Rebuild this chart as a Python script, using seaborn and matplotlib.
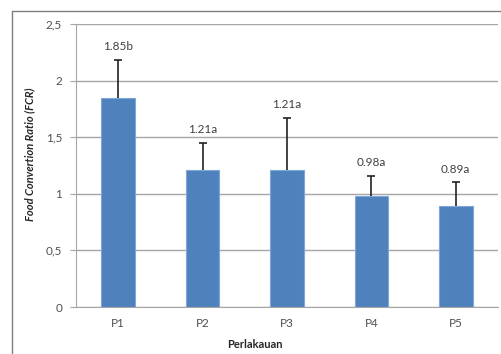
import matplotlib
matplotlib.use("Agg")
import matplotlib.pyplot as plt
import pandas as pd
import seaborn as sns
from matplotlib.lines import Line2D

# Data
treatments = ["P1", "P2", "P3", "P4", "P5"]
fcr = [1.85, 1.21, 1.21, 0.98, 0.89]
sd = [0.33, 0.24, 0.46, 0.18, 0.21]
labels = ["1.85b", "1.21a", "1.21a", "0.98a", "0.89a"]
yticks = [0, 0.5, 1, 1.5, 2, 2.5]
ytick_labels = ["0", "0,5", "1", "1,5", "2", "2,5"]

df = pd.DataFrame({"Perlakuan": treatments, "FCR": fcr})
tops = [v + s for v, s in zip(fcr, sd)]

sns.set_style("white")
plt.rcParams["font.family"] = ["Lato", "DejaVu Sans"]

fig = plt.figure(figsize=(5.02, 3.54), dpi=100)
ax = fig.add_axes([76 / 502, 1 - 307 / 354, 422 / 502, 283 / 354])

ax.yaxis.grid(True, color="#a6a6a6", linewidth=1)
ax.set_axisbelow(True)
sns.barplot(df, x="Perlakuan", y="FCR", color="#4f81bd", width=0.4,
            saturation=1, edgecolor="#7fa6d6", linewidth=0.8, ax=ax)
# upper error bars only, cap at the top
ax.vlines(range(len(treatments)), fcr, tops, color="#222222", linewidth=1.2)
ax.scatter(range(len(treatments)), tops, marker="_", s=30, color="#222222",
           linewidths=1.2, zorder=5)

for i, (t, lab) in enumerate(zip(tops, labels)):
    ax.text(i, t + 0.07, lab, ha="center", va="bottom", fontsize=8.5,
            color="#404040")

ax.set_ylim(0, 2.5)
ax.set_xlim(-0.5, 4.5)
ax.set_yticks(yticks)
ax.set_yticklabels(ytick_labels, fontsize=8.5, color="#505050")
ax.tick_params(axis="x", labelsize=8.5, colors="#505050", length=0, pad=8)
ax.tick_params(axis="y", length=4, color="#a6a6a6", pad=6, left=True)

for side in ["top", "right"]:
    ax.spines[side].set_visible(False)
ax.spines["left"].set_color("#a6a6a6")
ax.spines["bottom"].set_color("#a6a6a6")

ax.set_xlabel("Perlakauan", fontsize=8, fontweight="bold", labelpad=10)
ax.xaxis.set_label_coords((255 - 76) / 422, -(345 - 307) / 283)
ax.set_ylabel("Food Convertion Ratio (FCR)", fontsize=8, fontweight="bold",
              fontstyle="italic")
ax.yaxis.set_label_coords(-(76 - 30) / 422, (307 - 154) / 283)
ax.yaxis.label.set_va("center")
ax.xaxis.label.set_va("center")

# outer chart frame
fig.add_artist(Line2D([12 / 502, 12 / 502], [0, 1 - 11 / 354],
                      transform=fig.transFigure, color="#7f7f7f", linewidth=1))
fig.add_artist(Line2D([12 / 502, 1], [1 - 11 / 354, 1 - 11 / 354],
                      transform=fig.transFigure, color="#7f7f7f", linewidth=1))

fig.savefig("out.png", dpi=100)
